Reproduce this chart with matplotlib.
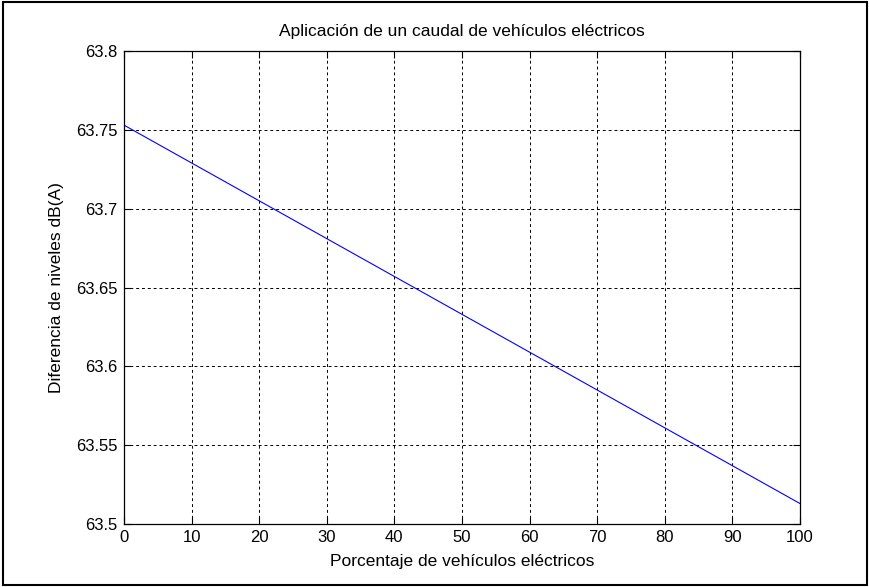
import matplotlib
matplotlib.use("Agg")
import matplotlib.pyplot as plt
from matplotlib.patches import Rectangle

plt.rcParams['font.family'] = ['Liberation Sans', 'DejaVu Sans']

# data
porcentaje = [0, 10, 20, 30, 40, 50, 60, 70, 80, 90, 100]
diferencia = [63.753, 63.729, 63.705, 63.681, 63.657, 63.633,
              63.609, 63.585, 63.561, 63.537, 63.513]
xticks = [0, 10, 20, 30, 40, 50, 60, 70, 80, 90, 100]
yticks = [63.5, 63.55, 63.6, 63.65, 63.7, 63.75, 63.8]
ytick_labels = ['63.5', '63.55', '63.6', '63.65', '63.7', '63.75', '63.8']

fig = plt.figure(figsize=(8.7, 5.87), dpi=100)
ax = fig.add_axes([0.1425, 0.1073, 0.777, 0.8058])

ax.plot(porcentaje, diferencia, color='blue', lw=0.8)

ax.set_xlim(0, 100)
ax.set_ylim(63.5, 63.8)
ax.set_xticks(xticks)
ax.set_yticks(yticks)
ax.set_yticklabels(ytick_labels)
ax.tick_params(direction='in', labelsize=12, length=5, width=0.8,
               top=True, right=True, pad=4.5)
ax.grid(True, color='black', linestyle=(0, (3, 3)), lw=0.7)
for s in ax.spines.values():
    s.set_linewidth(0.9)

ax.set_title("Aplicación de un caudal de vehículos eléctricos", fontsize=12.5, pad=11)
ax.set_xlabel("Porcentaje de vehículos eléctricos", fontsize=12.5, labelpad=6.5)
ax.set_ylabel("Diferencia de niveles dB(A)", fontsize=12.5, labelpad=9)

# outer frame round the whole picture
fig.patches.append(Rectangle((0.003, 0.004), 0.994, 0.992, transform=fig.transFigure,
                             fill=False, edgecolor='black', lw=1.5))

fig.savefig("out.png", dpi=100)
